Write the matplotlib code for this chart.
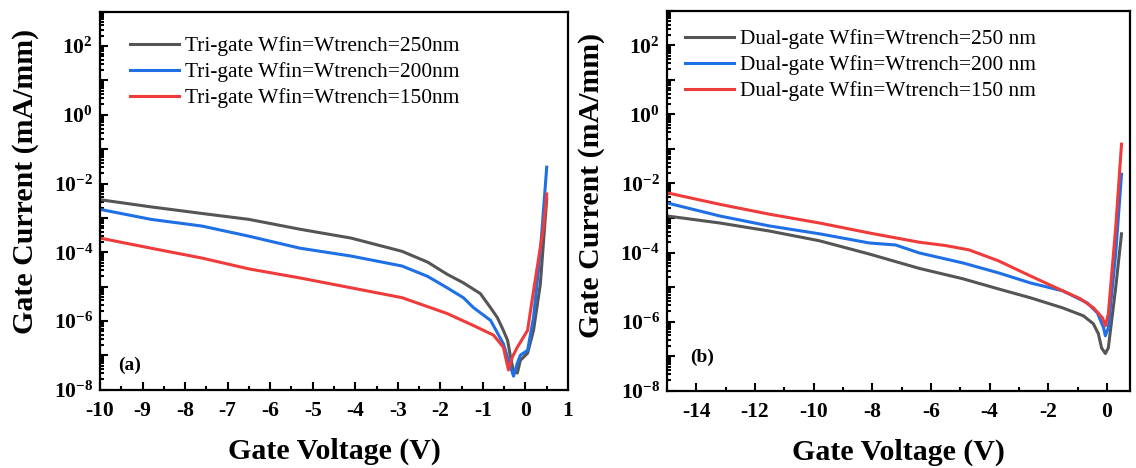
import math
import matplotlib
matplotlib.use('Agg')
import matplotlib.pyplot as plt
from matplotlib.ticker import LogLocator, FuncFormatter, MultipleLocator, NullFormatter

plt.rcParams['font.family'] = ['Liberation Serif', 'DejaVu Serif']
plt.rcParams['mathtext.fontset'] = 'custom'
plt.rcParams['mathtext.bf'] = 'Liberation Serif:bold'
plt.rcParams['mathtext.rm'] = 'Liberation Serif:bold'

# (a) tri-gate, gate current in mA/mm
vg_a_250 = [-10, -8.8, -7.6, -6.5, -5.3, -4.1, -2.9, -2.3, -1.84, -1.46, -1.06, -0.82, -0.66,
            -0.52, -0.42, -0.35, -0.28, -0.19, -0.12, 0.05, 0.19, 0.35, 0.5]
ig_a_250 = [3.4e-3, 2.1e-3, 1.35e-3, 9.1e-4, 4.7e-4, 2.6e-4, 1.07e-4, 5.2e-5, 2.3e-5, 1.3e-5,
            6.3e-6, 2.45e-6, 1.26e-6, 5.4e-7, 2.75e-7, 9.0e-8, 3.3e-8, 3.1e-8, 7.2e-8, 1.17e-7,
            5.4e-7, 1.2e-5, 3.6e-3]
vg_a_200 = [-10, -8.8, -7.6, -6.5, -5.3, -4.1, -2.9, -2.3, -1.84, -1.46, -1.22, -0.82, -0.52,
            -0.35, -0.28, -0.19, -0.12, 0.05, 0.19, 0.35, 0.5]
ig_a_200 = [1.78e-3, 9.1e-4, 5.8e-4, 2.95e-4, 1.32e-4, 7.8e-5, 4.0e-5, 2.0e-5, 9.3e-6, 4.8e-6,
            2.45e-6, 1.05e-6, 2.2e-7, 4.6e-8, 2.5e-8, 6.0e-8, 1.02e-7, 1.4e-7, 1.26e-6, 1.07e-4,
            3.0e-2]
vg_a_150 = [-10, -8.8, -7.6, -6.5, -5.3, -4.1, -2.9, -1.84, -1.22, -0.75, -0.52, -0.4,
            -0.31, -0.19, 0.05, 0.19, 0.42, 0.5]
ig_a_150 = [2.6e-4, 1.32e-4, 6.8e-5, 3.3e-5, 1.8e-5, 9.3e-6, 4.8e-6, 1.66e-6, 7.4e-7, 3.9e-7,
            1.74e-7, 3.8e-8, 8.9e-8, 1.74e-7, 5.4e-7, 7.6e-6, 5.0e-4, 5.0e-3]

# (b) dual-gate
vg_b_250 = [-15, -13.2, -11.5, -9.8, -8.1, -6.4, -4.9, -3.7, -2.6, -1.5, -0.8, -0.46,
            -0.29, -0.18, -0.05, 0.05, 0.3, 0.5]
ig_b_250 = [1.15e-3, 7.2e-4, 4.2e-4, 2.2e-4, 9.1e-5, 3.5e-5, 1.74e-5, 8.9e-6, 4.9e-6, 2.5e-6,
            1.48e-6, 8.7e-7, 4.5e-7, 1.74e-7, 1.2e-7, 1.74e-7, 9.5e-6, 3.5e-4]
vg_b_200 = [-15, -13.2, -11.5, -9.8, -8.1, -7.2, -6.4, -4.9, -3.7, -2.6, -1.5, -0.67,
            -0.32, -0.11, -0.05, 0.05, 0.3, 0.5]
ig_b_200 = [2.75e-3, 1.15e-3, 5.9e-4, 3.5e-4, 1.9e-4, 1.66e-4, 9.8e-5, 5.0e-5, 2.6e-5, 1.32e-5,
            7.8e-6, 3.5e-6, 1.78e-6, 6.6e-7, 3.9e-7, 6.6e-7, 9.1e-5, 1.86e-2]
vg_b_150 = [-15, -13.2, -11.5, -9.8, -8.1, -6.4, -5.5, -4.7, -3.7, -2.6, -1.5, -0.9, -0.45,
            -0.15, -0.05, 0.05, 0.3, 0.5]
ig_b_150 = [5.4e-3, 2.5e-3, 1.29e-3, 7.2e-4, 3.7e-4, 2.0e-4, 1.6e-4, 1.2e-4, 5.8e-5, 2.1e-5,
            7.8e-6, 4.6e-6, 2.5e-6, 1.29e-6, 7.6e-7, 1.7e-6, 5.1e-4, 1.38e-1]

labels_a = ['Tri-gate Wfin=Wtrench=250nm', 'Tri-gate Wfin=Wtrench=200nm',
            'Tri-gate Wfin=Wtrench=150nm']
labels_b = ['Dual-gate Wfin=Wtrench=250 nm', 'Dual-gate Wfin=Wtrench=200 nm',
            'Dual-gate Wfin=Wtrench=150 nm']
colors = ['#555555', '#1f6fe5', '#f03b3b']


def log_label(v, pos):
    e = int(round(math.log10(v)))
    if e % 2:
        return ''
    return r'$\mathbf{10^{%d}}$' % e


def style_axis(ax, xlim, xmajor, xminor, tag, tag_xy, ylab_xy):
    ax.set_yscale('log')
    ax.set_ylim(1e-8, 1e3)
    ax.set_xlim(*xlim)
    ax.yaxis.set_major_locator(LogLocator(base=10, numticks=20))
    ax.yaxis.set_major_formatter(FuncFormatter(log_label))
    ax.yaxis.set_minor_locator(LogLocator(base=10, subs=range(2, 10), numticks=20))
    ax.yaxis.set_minor_formatter(NullFormatter())
    ax.xaxis.set_major_locator(MultipleLocator(xmajor))
    ax.xaxis.set_minor_locator(MultipleLocator(xminor))
    ax.xaxis.set_major_formatter(FuncFormatter(lambda v, p: '%d' % round(v)))
    ax.tick_params(which='both', direction='in', width=1.5, labelsize=15.5)
    ax.tick_params(axis='x', which='major', pad=8)
    ax.tick_params(axis='y', which='major', pad=5)
    ax.tick_params(which='major', length=6)
    ax.tick_params(which='minor', length=3)
    for lab in ax.get_xticklabels():
        lab.set_fontweight('bold')
    for s in ax.spines.values():
        s.set_linewidth(1.6)
    ax.set_xlabel('Gate Voltage (V)', fontsize=21.5, fontweight='bold', labelpad=12)
    ax.set_ylabel('Gate Current (mA/mm)', fontsize=21.5, fontweight='bold')
    ax.yaxis.set_label_coords(*ylab_xy)
    ax.text(tag_xy[0], tag_xy[1], tag, transform=ax.transAxes, fontsize=14,
            fontweight='bold', va='center')


fig = plt.figure(figsize=(11.36, 4.68), dpi=100)
ax1 = fig.add_axes([0.088, 0.167, 0.412, 0.808])
ax2 = fig.add_axes([0.587, 0.165, 0.408, 0.812])

ax1.plot(vg_a_250, ig_a_250, color=colors[0], lw=2.2, label=labels_a[0])
ax1.plot(vg_a_200, ig_a_200, color=colors[1], lw=2.2, label=labels_a[1])
ax1.plot(vg_a_150, ig_a_150, color=colors[2], lw=2.2, label=labels_a[2])

ax2.plot(vg_b_250, ig_b_250, color=colors[0], lw=2.2, label=labels_b[0])
ax2.plot(vg_b_200, ig_b_200, color=colors[1], lw=2.2, label=labels_b[1])
ax2.plot(vg_b_150, ig_b_150, color=colors[2], lw=2.2, label=labels_b[2])

style_axis(ax1, (-10, 1), 1, 0.5, '(a)', (0.038, 0.066), (-0.13, 0.55))
style_axis(ax2, (-15, 0.8), 2, 1, '(b)', (0.05, 0.087), (-0.133, 0.54))

for ax, anchor in ((ax1, (0.045, 0.958)), (ax2, (0.02, 0.974))):
    ax.legend(loc='upper left', bbox_to_anchor=anchor, frameon=False, fontsize=15.4,
              handlelength=2.3, handletextpad=0.3, labelspacing=0.28, borderaxespad=0)

fig.savefig('out.png', dpi=100)
